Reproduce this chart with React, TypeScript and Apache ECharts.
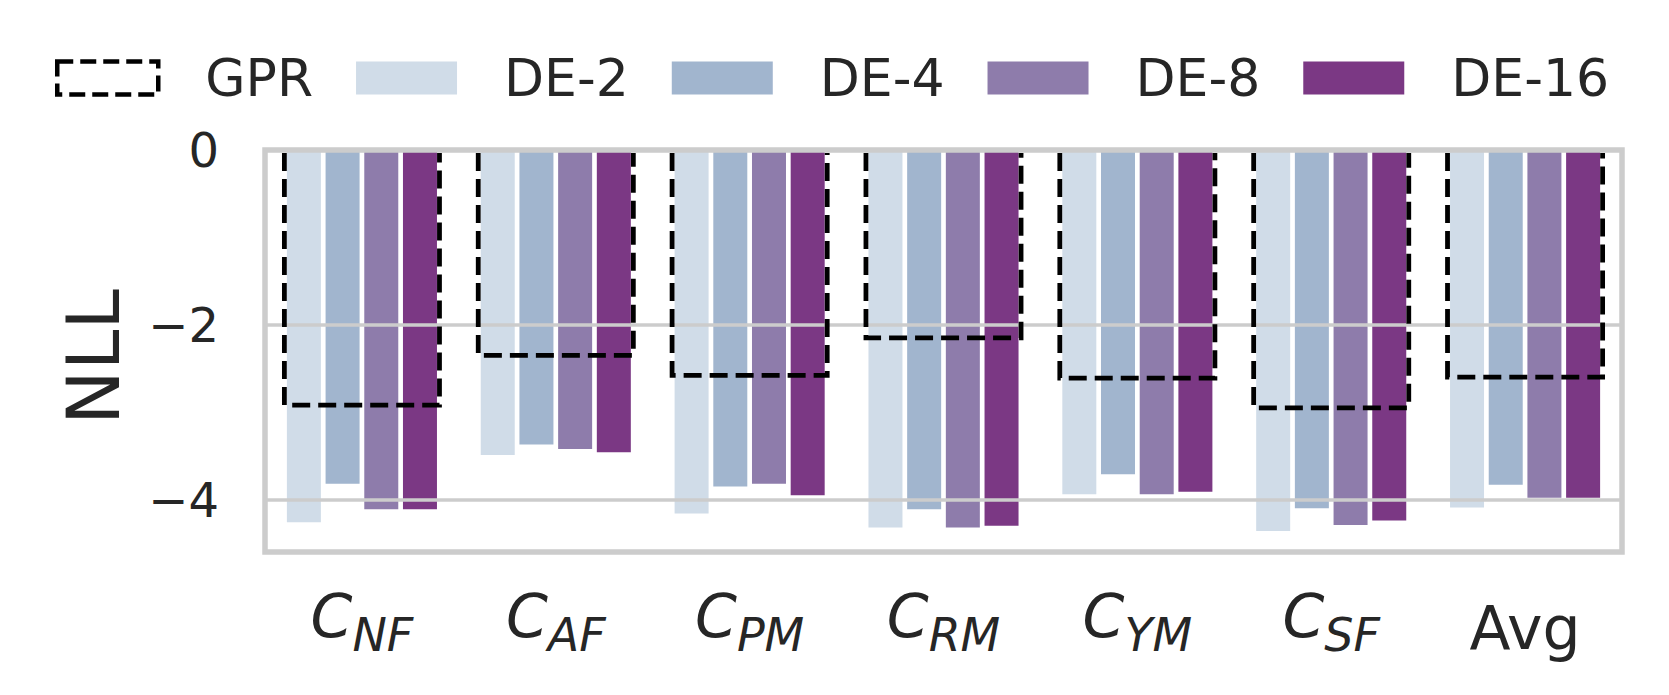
import React, { useEffect, useRef } from "react";
import * as echarts from "echarts";

const categories = ["NF", "AF", "PM", "RM", "YM", "SF", "Avg"];
const seriesNames = ["GPR", "DE-2", "DE-4", "DE-8", "DE-16"];
const gprValues = [-2.92, -2.35, -2.58, -2.15, -2.61, -2.95, -2.6];
const de2Values = [-4.26, -3.49, -4.16, -4.32, -3.94, -4.36, -4.09];
const de4Values = [-3.82, -3.37, -3.85, -4.11, -3.71, -4.1, -3.83];
const de8Values = [-4.11, -3.42, -3.82, -4.32, -3.94, -4.29, -3.98];
const de16Values = [-4.11, -3.46, -3.95, -4.3, -3.91, -4.24, -3.98];
const yTicks = [0, -2, -4];
const gridValues = [-2, -4];
const yAxisTitle = "NLL";
const deColors = ["#d0dce8", "#a1b5ce", "#8e7cab", "#7b3884"];

const FONT = "DejaVu Sans";
const TEXT = "#262626";

const GRID = { left: 265, top: 150, width: 1357, height: 402 };

export default function App() {
  const ref = useRef<HTMLDivElement>(null);
  useEffect(() => {
    if (!ref.current) return;
    const chart = echarts.init(ref.current, undefined, { renderer: "svg" });
    const deData = [de2Values, de4Values, de8Values, de16Values];
    const deSeries = deData.map((vals, i) => ({
      name: seriesNames[i + 1],
      type: "bar",
      xAxisIndex: 0,
      yAxisIndex: 0,
      data: vals,
      barWidth: 34,
      barGap: "13.8%",
      itemStyle: { color: deColors[i] },
      z: 2,
    }));
    const option = {
      animation: false,
      backgroundColor: "#ffffff",
      textStyle: { fontFamily: FONT, color: TEXT },
      legend: {
        left: 55,
        top: 52,
        padding: 0,
        itemWidth: 101,
        itemHeight: 33,
        itemGap: 43,
        textStyle: {
          fontFamily: FONT,
          fontSize: 52,
          color: TEXT,
          padding: [0, 0, 0, 42],
        },
        data: [
          {
            name: "GPR",
            icon: "rect",
            itemStyle: {
              color: "rgba(0,0,0,0)",
              borderColor: "#000000",
              borderWidth: 4.5,
              borderType: [16, 7],
            },
          },
          ...seriesNames.slice(1).map((n) => ({ name: n, icon: "rect" })),
        ],
      },
      grid: { ...GRID, containLabel: false },
      xAxis: [
        {
          type: "category",
          data: categories,
          axisLine: { show: false },
          axisTick: { show: false },
          splitLine: { show: false },
          axisLabel: {
            margin: 34,
            formatter: (v: string) =>
              v === "Avg" ? "{a|Avg}" : "{c|C}{s|" + v + "}",
            rich: {
              c: {
                fontFamily: FONT,
                fontSize: 60,
                fontStyle: "italic",
                color: TEXT,
                lineHeight: 60,
              },
              s: {
                fontFamily: FONT,
                fontSize: 46,
                fontStyle: "italic",
                color: TEXT,
                lineHeight: 46,
                padding: [37, 0, 0, 0],
              },
              a: {
                fontFamily: FONT,
                fontSize: 60,
                color: TEXT,
                lineHeight: 83,
              },
            },
          },
        },
      ],
      yAxis: {
        type: "value",
        min: -4.6,
        max: 0,
        axisLine: { show: false },
        axisTick: { show: false, customValues: yTicks },
        splitLine: { show: false },
        axisLabel: {
          customValues: yTicks,
          margin: 46,
          fontFamily: FONT,
          fontSize: 48,
          color: TEXT,
          formatter: (v: number) => String(v).replace("-", "\u2212"),
        },
      },
      series: [
        ...deSeries,
        {
          name: "GPR",
          type: "custom",
          xAxisIndex: 0,
          yAxisIndex: 0,
          z: 10,
          data: gprValues.map((v, i) => [i, v]),
          encode: { x: 0, y: 1 },
          itemStyle: {
            color: "rgba(0,0,0,0)",
            borderColor: "#000000",
            borderWidth: 4.8,
            borderType: [18, 8],
          },
          renderItem: (params: any, api: any) => {
            const idx = api.value(0);
            const v = api.value(1);
            const p0 = api.coord([idx, 0]);
            const p1 = api.coord([idx, v]);
            const w = api.size([1, 0])[0] * 0.8;
            const x0 = p0[0] - w / 2;
            const x1 = p0[0] + w / 2;
            return {
              type: "polyline",
              shape: {
                points: [
                  [x0, p0[1] + 3],
                  [x0, p1[1]],
                  [x1, p1[1]],
                  [x1, p0[1] + 3],
                ],
              },
              style: {
                fill: "none",
                stroke: "#000000",
                lineWidth: 4.8,
                lineDash: [18, 8],
              },
            };
          },
          markLine: {
            silent: true,
            symbol: "none",
            label: { show: false },
            lineStyle: { color: "#cccccc", width: 3.5, type: "solid" },
            data: gridValues.map((g) => ({ yAxis: g })),
            z: 5,
          },
        },
      ],
      graphic: {
        elements: [
          {
            type: "rect",
            zlevel: 1,
            z: 100,
            shape: {
              x: GRID.left,
              y: GRID.top,
              width: GRID.width,
              height: GRID.height,
            },
            style: { fill: "none", stroke: "#cccccc", lineWidth: 5.5 },
            silent: true,
          },
          {
            type: "text",
            x: 93,
            y: 357,
            rotation: Math.PI / 2,
            zlevel: 1,
            style: {
              text: yAxisTitle,
              fontFamily: FONT,
              fontSize: 73,
              fill: TEXT,
              align: "center",
              verticalAlign: "middle",
            },
            silent: true,
          },
        ],
      },
    };
    chart.setOption(option as any);
    return () => chart.dispose();
  }, []);
  return (
    <div
      ref={ref}
      style={{
        position: "fixed",
        left: 0,
        top: 0,
        width: 1669,
        height: 695,
        background: "#fff",
      }}
    />
  );
}
